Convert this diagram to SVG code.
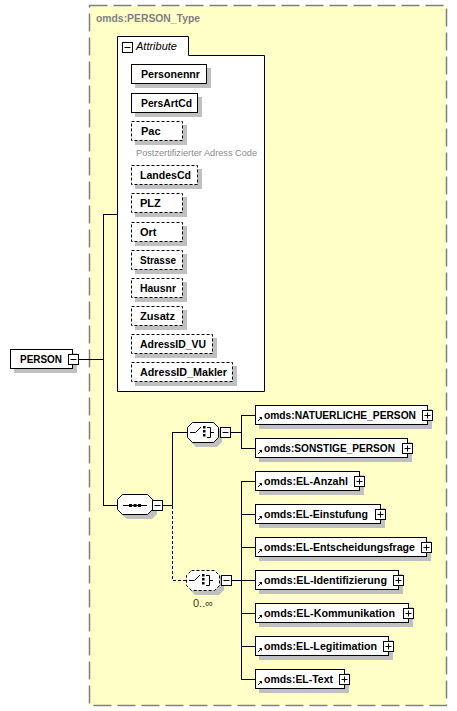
<svg xmlns="http://www.w3.org/2000/svg" width="457" height="711" viewBox="0 0 457 711">
<style>
.box{fill:#fff;stroke:#000;stroke-width:1}
.opt{fill:#fff;stroke:#000;stroke-width:1;stroke-dasharray:3 2}
.sh{fill:#c0c0c0}
.lbl{font-family:"Liberation Sans",Arial,sans-serif;font-weight:bold;font-size:11px;fill:#000}
.ln{stroke:#000;stroke-width:1;fill:none}
.dl{stroke:#000;stroke-width:1;fill:none;stroke-dasharray:3 2}
.btn{fill:#fff;stroke:#000;stroke-width:1}
</style>
<defs>
<g id="plus"><rect class="btn" x="0.5" y="0.5" width="10" height="10"/><path class="ln" d="M2.5 5.5H8.5M5.5 2.5V8.5"/></g>
<g id="minus"><rect class="btn" x="0.5" y="0.5" width="10" height="10"/><path class="ln" d="M2.5 5.5H8.5"/></g>
<path id="refarrow" d="M0 4L3.5 0.5M1.5 0.5H3.5V2.5" stroke="#000" stroke-width="1" fill="none"/>
</defs>
<rect width="457" height="711" fill="#fff"/>
<g id="PERSON_Type">
<rect x="89.5" y="5.5" width="357" height="700" fill="#ffffc8" stroke="#808080" stroke-width="1.5" stroke-dasharray="18 6"/>
<text x="96" y="22" style="font-family:'Liberation Sans',Arial,sans-serif;font-weight:bold;font-size:11px;fill:#808080" textLength="104" lengthAdjust="spacingAndGlyphs">omds:PERSON_Type</text>
</g>
<g id="connectors">
<path class="ln" d="M79 359.5H103.5M103.5 214V505.5M103 214.5H117M103 505.5H117"/>
<path class="ln" d="M163 505.5H172.5M172.5 432V505.5M172 432.5H187"/>
<path class="dl" d="M172.5 506V580.5H186"/>
<path class="ln" d="M231 432.5H241.5M241.5 415V448M241 415.5H255M241 448.5H255"/>
<path class="ln" d="M232 580.5H241.5M241.5 481V679M241 481.5H255M241 514.5H255M241 547.5H255M241 580.5H255M241 613.5H255M241 646.5H255M241 679.5H255"/>
</g>
<g id="Attribute">
<path d="M117.5 391.5V36.5H188.5V55.5H264.5V391.5Z" fill="#fff" stroke="#000"/>
<use href="#minus" x="122" y="42"/>
<text x="136" y="50" style="font-family:'Liberation Sans',Arial,sans-serif;font-style:italic;font-size:11px;fill:#000">Attribute</text>
</g>
<g id="Personennr"><rect class="sh" x="135" y="68" width="76" height="20"/><rect class="box" x="131.5" y="64.5" width="75" height="19"/><text class="lbl" x="141" y="78" textLength="59" lengthAdjust="spacingAndGlyphs">Personennr</text></g>
<g id="PersArtCd"><rect class="sh" x="135" y="97" width="67" height="20"/><rect class="box" x="131.5" y="93.5" width="66" height="19"/><text class="lbl" x="141" y="107" textLength="51" lengthAdjust="spacingAndGlyphs">PersArtCd</text></g>
<g id="Pac"><rect class="sh" x="135" y="125" width="52" height="20"/><rect class="opt" x="131.5" y="121.5" width="51" height="19"/><text class="lbl" x="141" y="135">Pac</text>
<text x="136" y="156" style="font-family:'Liberation Sans',Arial,sans-serif;font-size:9px;fill:#8c8c8c" textLength="121" lengthAdjust="spacingAndGlyphs">Postzertifizierter Adress Code</text></g>
<g id="LandesCd"><rect class="sh" x="135" y="169" width="67" height="20"/><rect class="opt" x="131.5" y="165.5" width="66" height="19"/><text class="lbl" x="140" y="179" textLength="51" lengthAdjust="spacingAndGlyphs">LandesCd</text></g>
<g id="PLZ"><rect class="sh" x="135" y="197" width="52" height="20"/><rect class="opt" x="131.5" y="193.5" width="51" height="19"/><text class="lbl" x="140" y="207">PLZ</text></g>
<g id="Ort"><rect class="sh" x="135" y="226" width="52" height="20"/><rect class="opt" x="131.5" y="222.5" width="51" height="19"/><text class="lbl" x="140" y="236">Ort</text></g>
<g id="Strasse"><rect class="sh" x="135" y="254" width="52" height="20"/><rect class="opt" x="131.5" y="250.5" width="51" height="19"/><text class="lbl" x="140" y="264" textLength="36" lengthAdjust="spacingAndGlyphs">Strasse</text></g>
<g id="Hausnr"><rect class="sh" x="135" y="282" width="52" height="20"/><rect class="opt" x="131.5" y="278.5" width="51" height="19"/><text class="lbl" x="140" y="292" textLength="36" lengthAdjust="spacingAndGlyphs">Hausnr</text></g>
<g id="Zusatz"><rect class="sh" x="135" y="310" width="52" height="20"/><rect class="opt" x="131.5" y="306.5" width="51" height="19"/><text class="lbl" x="140" y="320" textLength="35" lengthAdjust="spacingAndGlyphs">Zusatz</text></g>
<g id="AdressID_VU"><rect class="sh" x="135" y="338" width="82" height="20"/><rect class="opt" x="131.5" y="334.5" width="81" height="19"/><text class="lbl" x="140" y="348" textLength="66" lengthAdjust="spacingAndGlyphs">AdressID_VU</text></g>
<g id="AdressID_Makler"><rect class="sh" x="135" y="366" width="102" height="20"/><rect class="opt" x="131.5" y="362.5" width="101" height="19"/><text class="lbl" x="140" y="376" textLength="87" lengthAdjust="spacingAndGlyphs">AdressID_Makler</text></g>
<g id="PERSON"><rect class="sh" x="14" y="353" width="63" height="20"/><rect class="box" x="10.5" y="349.5" width="62" height="19"/><text class="lbl" x="20" y="363" textLength="42" lengthAdjust="spacingAndGlyphs">PERSON</text><use href="#minus" x="68" y="354"/></g>
<g id="sequence">
<path class="sh" d="M127 498H152L157 503V514L152 519H127L121 514V503Z"/>
<path d="M122.5 494.5H147.5L152.5 499.5V509.5L147.5 514.5H122.5L117.5 509.5V499.5Z" fill="#fff" stroke="#000"/>
<path class="ln" d="M123 505.5H147"/>
<rect x="129" y="504" width="3" height="3" fill="#000"/><rect x="133.5" y="504" width="3" height="3" fill="#000"/><rect x="138" y="504" width="3" height="3" fill="#000"/>
<use href="#minus" x="152" y="500"/>
</g>
<g id="choice1">
<path class="sh" d="M196 426H217L222 431V442L217 447H196L191 442V431Z"/>
<path d="M192.5 422.5H213.5L218.5 427.5V437.5L213.5 442.5H192.5L187.5 437.5V427.5Z" fill="#fff" stroke="#000"/>
<path class="ln" d="M190 432.5H195.5L201 427"/>
<rect x="203" y="426" width="2.5" height="2.5" fill="#000"/><rect x="203" y="430" width="2.5" height="2.5" fill="#000"/><rect x="203" y="434" width="2.5" height="2.5" fill="#000"/>
<path class="ln" d="M207 427.5H210.5V437.5H207M210.5 432.5H214"/>
<use href="#minus" x="220" y="427"/>
</g>
<g id="choice2">
<path class="sh" d="M195 574H219L224 579V590L219 595H195L190 590V579Z"/>
<path d="M191.5 570.5H214.5L219.5 575.5V585.5L214.5 590.5H191.5L186.5 585.5V575.5Z" fill="#fff" stroke="#000" stroke-dasharray="3 2"/>
<path class="ln" d="M189 580.5H194.5L200 575"/>
<rect x="202" y="574" width="2.5" height="2.5" fill="#000"/><rect x="202" y="578" width="2.5" height="2.5" fill="#000"/><rect x="202" y="582" width="2.5" height="2.5" fill="#000"/>
<path class="ln" d="M206 575.5H209.5V585.5H206M209.5 580.5H213"/>
<use href="#minus" x="221" y="575"/>
<text x="193" y="607" style="font-family:'Liberation Sans',Arial,sans-serif;font-size:11px;fill:#3a3a10">0..∞</text>
</g>
<g id="NATUERLICHE_PERSON"><rect class="sh" x="259" y="409" width="173" height="20"/><rect class="box" x="255.5" y="405.5" width="172" height="19"/><use href="#refarrow" x="258" y="417"/><text class="lbl" x="264" y="419" textLength="152" lengthAdjust="spacingAndGlyphs">omds:NATUERLICHE_PERSON</text><use href="#plus" x="422" y="410"/></g>
<g id="SONSTIGE_PERSON"><rect class="sh" x="259" y="442" width="153" height="20"/><rect class="box" x="255.5" y="438.5" width="152" height="19"/><use href="#refarrow" x="258" y="450"/><text class="lbl" x="264" y="452" textLength="131" lengthAdjust="spacingAndGlyphs">omds:SONSTIGE_PERSON</text><use href="#plus" x="402" y="443"/></g>
<g id="EL-Anzahl"><rect class="sh" x="259" y="475" width="105" height="20"/><rect class="box" x="255.5" y="471.5" width="104" height="19"/><use href="#refarrow" x="258" y="483"/><text class="lbl" x="264" y="485" textLength="84" lengthAdjust="spacingAndGlyphs">omds:EL-Anzahl</text><use href="#plus" x="354" y="476"/></g>
<g id="EL-Einstufung"><rect class="sh" x="259" y="508" width="126" height="20"/><rect class="box" x="255.5" y="504.5" width="125" height="19"/><use href="#refarrow" x="258" y="516"/><text class="lbl" x="264" y="518" textLength="104" lengthAdjust="spacingAndGlyphs">omds:EL-Einstufung</text><use href="#plus" x="375" y="509"/></g>
<g id="EL-Entscheidungsfrage"><rect class="sh" x="259" y="541" width="172" height="20"/><rect class="box" x="255.5" y="537.5" width="171" height="19"/><use href="#refarrow" x="258" y="549"/><text class="lbl" x="264" y="551" textLength="151" lengthAdjust="spacingAndGlyphs">omds:EL-Entscheidungsfrage</text><use href="#plus" x="421" y="542"/></g>
<g id="EL-Identifizierung"><rect class="sh" x="259" y="574" width="144" height="20"/><rect class="box" x="255.5" y="570.5" width="143" height="19"/><use href="#refarrow" x="258" y="582"/><text class="lbl" x="264" y="584" textLength="123" lengthAdjust="spacingAndGlyphs">omds:EL-Identifizierung</text><use href="#plus" x="393" y="575"/></g>
<g id="EL-Kommunikation"><rect class="sh" x="259" y="607" width="154" height="20"/><rect class="box" x="255.5" y="603.5" width="153" height="19"/><use href="#refarrow" x="258" y="615"/><text class="lbl" x="264" y="617" textLength="131" lengthAdjust="spacingAndGlyphs">omds:EL-Kommunikation</text><use href="#plus" x="403" y="608"/></g>
<g id="EL-Legitimation"><rect class="sh" x="259" y="640" width="134" height="20"/><rect class="box" x="255.5" y="636.5" width="133" height="19"/><use href="#refarrow" x="258" y="648"/><text class="lbl" x="264" y="650" textLength="113" lengthAdjust="spacingAndGlyphs">omds:EL-Legitimation</text><use href="#plus" x="383" y="641"/></g>
<g id="EL-Text"><rect class="sh" x="259" y="673" width="90" height="20"/><rect class="box" x="255.5" y="669.5" width="89" height="19"/><use href="#refarrow" x="258" y="681"/><text class="lbl" x="264" y="683" textLength="69" lengthAdjust="spacingAndGlyphs">omds:EL-Text</text><use href="#plus" x="339" y="674"/></g>
</svg>
